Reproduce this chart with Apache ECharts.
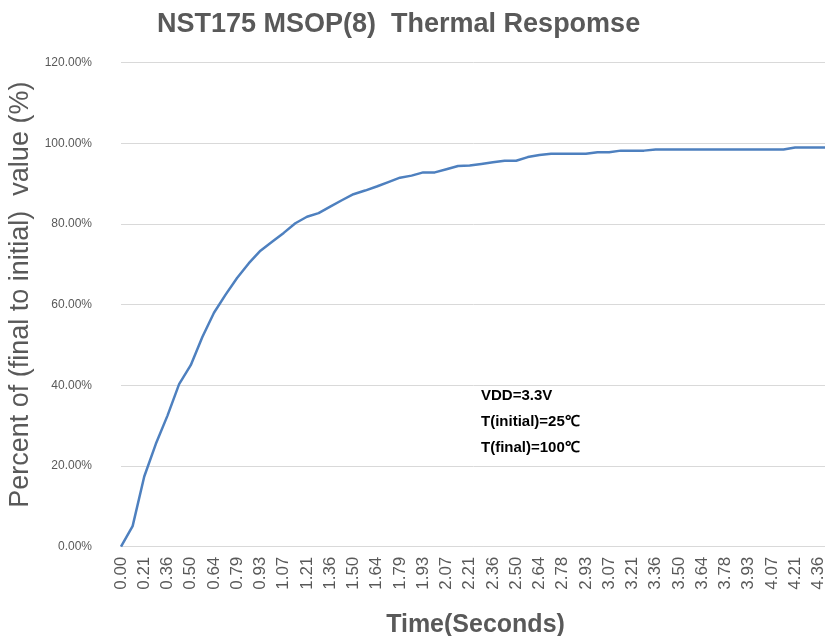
<!DOCTYPE html>
<html>
<head>
<meta charset="utf-8">
<script src="https://cdn.jsdelivr.net/npm/echarts@6/dist/echarts.min.js"></script>
<style>html,body{margin:0;padding:0;background:#fff}#c{width:825px;height:636px}</style>
</head>
<body>
<div id="c"></div>
<script>
const chartTitle = 'NST175 MSOP(8)  Thermal Respomse';
const xTitle = 'Time(Seconds)';
const yTitle = 'Percent of (final to initial)  value (%)';
const notes = ['VDD=3.3V', 'T(initial)=25\u2103', 'T(final)=100\u2103'];
const times = ['0.00','0.11','0.21','0.29','0.36','0.43','0.50','0.57','0.64','0.71',
  '0.79','0.86','0.93','1.00','1.07','1.14','1.21','1.29','1.36','1.43',
  '1.50','1.57','1.64','1.71','1.79','1.86','1.93','2.00','2.07','2.14',
  '2.21','2.29','2.36','2.43','2.50','2.57','2.64','2.71','2.78','2.86',
  '2.93','3.00','3.07','3.14','3.21','3.29','3.36','3.43','3.50','3.57',
  '3.64','3.71','3.78','3.86','3.93','4.00','4.07','4.14','4.21','4.29',
  '4.36','4.43'];
const percent = [0.000,0.051,0.174,0.255,0.325,0.403,0.450,0.520,0.580,0.625,
  0.667,0.703,0.734,0.756,0.778,0.802,0.818,0.827,0.843,0.859,
  0.874,0.883,0.893,0.904,0.915,0.920,0.928,0.928,0.936,0.944,
  0.945,0.949,0.953,0.957,0.957,0.966,0.971,0.974,0.974,0.974,
  0.974,0.978,0.978,0.982,0.982,0.982,0.985,0.985,0.985,0.985,
  0.985,0.985,0.985,0.985,0.985,0.985,0.985,0.985,0.990,0.990,
  0.990,0.990];
const yTicks = {min: 0, max: 1.2, interval: 0.2};

const chart = echarts.init(document.getElementById('c'), null, {renderer: 'canvas'});
chart.setOption({
  animation: false,
  backgroundColor: '#ffffff',
  title: {
    text: chartTitle,
    left: 152, top: 6,
    textStyle: {fontFamily: 'Liberation Sans', fontSize: 27, fontWeight: 'bold', color: '#595959'}
  },
  grid: {left: 121, right: -5, top: 62.7, bottom: 89.3, containLabel: false, outerBoundsMode: 'none'},
  xAxis: {
    type: 'category',
    data: times,
    boundaryGap: false,
    name: xTitle,
    nameLocation: 'middle',
    nameGap: 66,
    nameTextStyle: {fontFamily: 'Liberation Sans', fontSize: 25, fontWeight: 'bold', color: '#595959'},
    axisLine: {lineStyle: {color: '#d9d9d9', width: 1}},
    axisTick: {show: false},
    axisLabel: {interval: 1, rotate: 90, margin: 10, fontFamily: 'Liberation Sans', fontSize: 17, color: '#595959'},
    splitLine: {show: false}
  },
  yAxis: {
    type: 'value',
    min: yTicks.min, max: yTicks.max, interval: yTicks.interval,
    name: yTitle,
    nameLocation: 'middle',
    nameGap: 87,
    nameTextStyle: {fontFamily: 'Liberation Sans', fontSize: 27, color: '#595959', padding: [0, 0, 0, 20]},
    axisLine: {show: false},
    axisTick: {show: false},
    axisLabel: {
      margin: 29, fontFamily: 'Liberation Sans', fontSize: 12, color: '#595959',
      formatter: v => (v * 100).toFixed(2) + '%'
    },
    splitLine: {lineStyle: {color: '#d9d9d9', width: 1}}
  },
  series: [{
    type: 'line',
    data: percent,
    showSymbol: false,
    symbol: 'none',
    lineStyle: {color: '#4e80bf', width: 2.5},
    clip: true
  }],
  graphic: [{
    type: 'text',
    left: 481, top: 383,
    style: {
      text: notes.join('\n'),
      fontFamily: 'Liberation Sans', fontSize: 15, fontWeight: 'bold',
      fill: '#000000', lineHeight: 26
    }
  }]
});
</script>
</body>
</html>
